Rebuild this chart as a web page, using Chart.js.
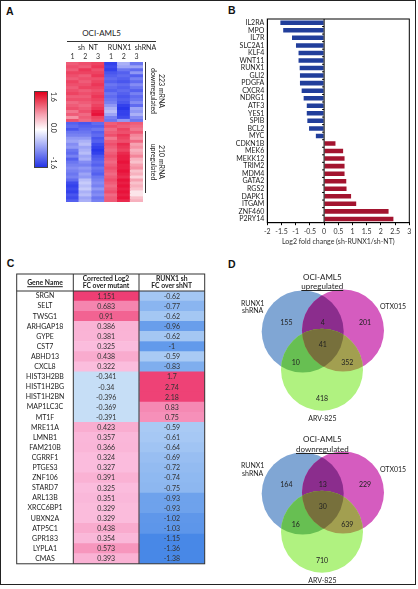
<!DOCTYPE html>
<html><head><meta charset="utf-8">
<script src="https://cdn.jsdelivr.net/npm/chart.js@4.4.1/dist/chart.umd.min.js"></script>
<style>
html,body{margin:0;padding:0;background:#fff;}
body{width:418px;height:589px;position:relative;overflow:hidden;font-family:Lato,"Open Sans",sans-serif;color:#222;}
.abs{position:absolute;}
canvas{position:absolute;z-index:1;}
.lbl{position:absolute;z-index:2;white-space:nowrap;font-size:7px;line-height:8px;transform:translate(-50%,-50%);text-align:center;}
.rot{transform:translate(-50%,-50%) rotate(90deg);}
.panel{position:absolute;font-family:"Liberation Sans",Arial,sans-serif;font-weight:bold;font-size:10.5px;line-height:11px;color:#111;}
.hd{position:absolute;z-index:2;font-weight:bold;font-size:6.8px;line-height:7.6px;text-align:center;white-space:nowrap;transform:translate(-50%,-50%);color:#222;}
</style></head><body>
<div class="abs" style="left:0;top:0;width:414px;height:583px;border:1.5px solid #222;"></div>

<!-- Panel A -->
<div class="panel" style="left:6px;top:6px;">A</div>
<div class="lbl" style="left:101.5px;top:32.7px;font-size:8px;">OCI-AML5</div>
<div class="abs" style="left:66.7px;top:40.5px;width:89.3px;border-top:0.8px solid #333;"></div>
<div class="lbl" style="left:88px;top:46.5px;">sh&nbsp;&nbsp;NT</div>
<div class="lbl" style="left:132px;top:46.5px;">RUNX1&nbsp;&nbsp;shRNA</div>
<div class="abs" style="left:34px;top:90.7px;width:11.5px;height:75px;border:0.6px solid #444;background:linear-gradient(to bottom,#e2001c 0%,#f6a0b0 30%,#ffffff 50%,#a8b0f6 70%,#2535e6 100%);"></div>
<div class="lbl rot" style="left:54.3px;top:96.7px;">1.6</div>
<div class="lbl rot" style="left:54.3px;top:127.5px;">0.0</div>
<div class="lbl rot" style="left:54.3px;top:162.5px;">-1.6</div>
<canvas id="cA" width="77" height="152" style="left:66px;top:50px;width:77px;height:152px;"></canvas>
<div class="abs" style="left:145.4px;top:62px;height:58px;border-left:0.8px solid #333;"></div>
<div class="abs" style="left:145.4px;top:130.7px;height:62.6px;border-left:0.8px solid #333;"></div>
<div class="lbl rot" style="left:162px;top:90.5px;">223 mRNA</div>
<div class="lbl rot" style="left:154.3px;top:90.5px;">downregulated</div>
<div class="lbl rot" style="left:162px;top:162px;">210 mRNA</div>
<div class="lbl rot" style="left:154.3px;top:162px;">upregulated</div>

<!-- Panel B -->
<div class="panel" style="left:228px;top:5px;">B</div>
<canvas id="cB" width="206" height="236" style="left:210px;top:10px;width:206px;height:236px;"></canvas>

<!-- Panel C -->
<div class="panel" style="left:6.7px;top:258px;">C</div>
<canvas id="cC" width="190" height="304" style="left:16px;top:273px;width:190px;height:304px;"></canvas>
<div class="hd" style="left:45px;top:282.5px;text-decoration:underline;">Gene Name</div>
<div class="hd" style="left:106px;top:282.5px;">Corrected Log2<br>FC over mutant</div>
<div class="hd" style="left:171.7px;top:282.5px;">RUNX1 sh<br>FC over shNT</div>

<!-- Panel D -->
<div class="panel" style="left:228px;top:258.7px;">D</div>
<div class="lbl" style="left:322.3px;top:276.7px;font-size:8px;">OCI-AML5</div>
<div class="lbl" style="left:322.3px;top:286.4px;font-size:8px;text-decoration:underline;">upregulated</div>
<canvas id="cD1" width="176" height="128" style="left:240px;top:288px;width:176px;height:128px;"></canvas>
<div class="lbl" style="left:252.7px;top:306.7px;line-height:7.5px;">RUNX1<br>shRNA</div>
<div class="lbl" style="left:393px;top:306px;">OTX015</div>
<div class="lbl" style="left:322.3px;top:418.3px;">ARV-825</div>

<div class="lbl" style="left:322.3px;top:439.3px;font-size:8px;">OCI-AML5</div>
<div class="lbl" style="left:322.3px;top:449px;font-size:8px;text-decoration:underline;">downregulated</div>
<canvas id="cD2" width="176" height="128" style="left:240px;top:450px;width:176px;height:128px;"></canvas>
<div class="lbl" style="left:252.7px;top:469px;line-height:7.5px;">RUNX1<br>shRNA</div>
<div class="lbl" style="left:393px;top:468.5px;">OTX015</div>
<div class="lbl" style="left:322.3px;top:579.8px;">ARV-825</div>

<script>
// ---------------- DATA ----------------
// Panel A heatmap (z-scores), 20 rows downregulated block + 27 rows upregulated block
const heatColumns = ['1','2','3','1','2','3'];
const shNT_1 = [1.0,1.1,1.0,1.2,1.1,1.0,1.2,1.1,1.0,1.1,1.2,1.0,1.1,0.9,1.0,1.1,0.8,1.0,0.6,1.1,
  -1.2,-1.1,-1.3,-1.0,-0.9,-0.7,-0.6,-0.8,-0.7,-1.0,-1.1,-0.9,-1.2,-1.0,-0.9,-0.8,-0.9,-1.0,-0.9,-1.1,-1.4,-1.5,-1.4,-1.5,-1.3,-1.4,-1.2];
const shNT_2 = [1.1,1.0,1.3,1.2,1.0,1.1,1.0,1.1,1.2,1.0,1.1,1.0,1.1,1.0,0.9,1.0,1.1,0.9,1.0,0.9,
  -1.3,-1.2,-1.1,-1.0,-0.9,-0.7,-0.5,-0.4,-0.6,-0.5,-0.4,-0.6,-0.5,-0.8,-0.9,-0.7,-0.8,-0.6,-0.7,-0.4,-0.3,-0.4,-0.3,-0.5,-0.4,-0.6,-0.5];
const shNT_3 = [1.2,1.3,1.1,1.2,1.3,1.1,1.2,1.3,1.2,1.1,1.2,1.3,1.2,1.1,1.2,1.3,1.5,1.6,1.2,1.1,
  -1.1,-1.2,-1.0,-1.2,-1.1,-1.3,-1.2,-1.4,-1.5,-1.6,-1.5,-1.3,-1.2,-1.1,-1.2,-1.0,-1.1,-1.2,-1.0,-0.9,-0.8,-0.9,-0.7,-0.9,-0.8,-1.0,-0.9];
const shRUNX1_1 = [-1.5,-1.4,-1.5,-1.3,-1.2,-1.1,-1.2,-1.0,-1.1,-1.2,-1.0,-1.1,-1.0,-0.9,-0.7,-0.5,-0.4,-0.6,-0.9,-1.0,
  1.0,1.1,0.9,1.0,1.1,0.8,1.0,1.1,1.0,0.9,1.0,1.1,1.0,0.9,1.0,1.1,1.0,0.9,1.0,1.1,1.0,0.9,1.0,1.1,0.9,1.0,1.0];
const shRUNX1_2 = [-0.5,-0.6,-1.0,-1.2,-1.1,-1.2,-1.3,-1.1,-1.2,-1.1,-1.2,-1.3,-1.2,-1.3,-1.5,-1.6,-1.5,-1.5,-1.4,-0.7,
  1.1,1.0,1.2,1.1,1.3,1.2,1.1,1.4,1.3,1.2,1.4,1.5,1.5,1.6,1.5,1.5,1.6,1.5,1.4,1.6,1.5,1.6,1.5,1.6,1.5,1.6,1.4];
const shRUNX1_3 = [-1.0,-0.6,-1.1,-0.7,-1.2,-0.9,-1.1,-0.8,-1.0,-1.2,-0.9,-1.1,-1.0,-0.8,-1.1,-0.6,-0.7,-0.5,-0.8,-1.0,
  1.0,0.9,0.8,1.0,0.7,0.6,0.9,0.5,0.6,0.4,0.5,0.7,0.4,0.3,0.5,0.6,0.3,0.4,0.2,0.5,0.3,0.4,0.3,0.1,0.1,0.3,0.4];

// Panel B
const genesB = ['IL2RA','MPO','IL7R','SLC2A1','KLF4','WNT11','RUNX1','GLI2','PDGFA','CXCR4','NDRG1','ATF3','YES1','SPIB','BCL2','MYC',
  'CDKN1B','MEK6','MEKK12','TRIM2','MDM4','GATA2','RGS2','DAPK1','ITGAM','ZNF460','P2RY14'];
const log2FC = [-1.54,-1.44,-1.13,-0.99,-0.90,-0.90,-0.86,-0.85,-0.85,-0.79,-0.72,-0.61,-0.61,-0.59,-0.53,-0.29,
  0.40,0.67,0.72,0.72,0.72,0.78,0.79,0.95,1.13,2.27,2.44];
const xTicksB = [-2,3,0.5]; // min, max, step

// Panel C
const tableGenes = ['SRGN','SELT','TWSG1','ARHGAP18','GYPE','CST7','ABHD13','CXCL8','HIST3H2BB','HIST1H2BG','HIST1H2BN','MAP1LC3C','MT1F',
  'MRE11A','LMNB1','FAM210B','CGRRF1','PTGES3','ZNF106','STARD7','ARL13B','XRCC6BP1','UBXN2A','ATP5C1','GPR183','LYPLA1','CMAS'];
const fcMutant = ['1.151','0.683','0.91','0.386','0.381','0.325','0.438','0.322','-0.341','-0.34','-0.396','-0.369','-0.391',
  '0.423','0.357','0.366','0.324','0.327','0.391','0.325','0.351','0.329','0.329','0.438','0.354','0.573','0.393'];
const fcShNT = ['-0.62','-0.77','-0.62','-0.96','-0.62','-1','-0.59','-0.83','1.7','2.74','2.18','0.83','0.75',
  '-0.59','-0.61','-0.64','-0.69','-0.72','-0.74','-0.75','-0.93','-0.93','-1.02','-1.03','-1.15','-1.36','-1.38'];

// Panel D (region order: RUNX1 only, RUNX1∩OTX, OTX only, all three, RUNX1∩ARV, OTX∩ARV, ARV only)
const vennUp = [155,4,201,41,10,352,418];
const vennDown = [164,13,229,30,16,639,710];

// ---------------- HELPERS ----------------
Chart.defaults.font.family = 'Lato, "Open Sans", sans-serif';
Chart.defaults.color = '#333';
Chart.defaults.animation = false;
function mix(a,b,t){t=Math.max(0,Math.min(1,t));return 'rgb('+a.map((c,i)=>Math.round(c+(b[i]-c)*t)).join(',')+')';}
function heatColor(v){const t=Math.pow(Math.min(Math.abs(v)/1.6,1),0.8);return v>=0?mix([255,255,255],[232,18,58],t):mix([255,255,255],[40,55,235],t);}
function colMutant(v){v=parseFloat(v);return v>=0?mix([251,192,224],[238,62,116],(v-0.3)/0.85):'rgb(198,222,246)';}
function colShNT(v){v=parseFloat(v);return v<0?mix([176,207,245],[72,136,231],(-v-0.55)/0.6):mix([246,148,188],[238,66,118],(v-0.7)/1.0);}

// ---------------- PANEL A ----------------
const heatCols=[shNT_1,shNT_2,shNT_3,shRUNX1_1,shRUNX1_2,shRUNX1_3];
const nRows=shNT_1.length;
const heatSets=[];
for(let r=0;r<nRows;r++){
  heatSets.push({data:heatColumns.map(()=>1),backgroundColor:heatCols.map(c=>heatColor(c[r])),borderWidth:0,
    barPercentage:1,categoryPercentage:1,stack:'h'});
}
new Chart(document.getElementById('cA'),{type:'bar',data:{labels:heatColumns,datasets:heatSets},
  options:{responsive:false,layout:{padding:0},plugins:{legend:{display:false},tooltip:{enabled:false}},
    scales:{x:{stacked:true,position:'top',grid:{display:false,drawTicks:false},border:{display:false},
        ticks:{font:{size:7},color:'#333',padding:1,maxRotation:0,autoSkip:false},afterFit:s=>{s.height=12;}},
      y:{stacked:true,min:0,max:nRows,reverse:true,display:false}}}});

// ---------------- PANEL B ----------------
const boxPlugin={id:'boxB',afterDatasetsDraw(chart){
  const {ctx,chartArea:a}=chart;const x0=chart.scales.x.getPixelForValue(0);
  ctx.save();ctx.strokeStyle='#000';ctx.lineWidth=1;
  ctx.strokeRect(a.left,a.top,a.right-a.left,a.bottom-a.top);
  ctx.beginPath();ctx.moveTo(x0,a.top);ctx.lineTo(x0,a.bottom);
  const n=chart.data.labels.length;const step=(a.bottom-a.top)/n;
  for(let i=1;i<n;i++){const y=a.top+step*i;ctx.moveTo(x0-2,y);ctx.lineTo(x0,y);}
  ctx.stroke();ctx.restore();}};
new Chart(document.getElementById('cB'),{type:'bar',
  data:{labels:genesB,datasets:[{data:log2FC,backgroundColor:log2FC.map(v=>v<0?'#213e9b':'#a3142f'),borderWidth:0,barPercentage:0.6,categoryPercentage:1}]},
  options:{indexAxis:'y',responsive:false,layout:{padding:{top:9,right:6.7,left:0,bottom:0}},
    plugins:{legend:{display:false},tooltip:{enabled:false}},
    scales:{
      x:{type:'linear',min:xTicksB[0],max:xTicksB[1],ticks:{stepSize:xTicksB[2],font:{size:7},color:'#333',padding:2.5,maxRotation:0,autoSkip:false,callback:v=>String(v)},
        grid:{drawOnChartArea:false,drawTicks:true,tickLength:2.5,color:'#000'},border:{display:true,color:'#000'},
        title:{display:true,text:'Log2 fold change (sh-RUNX1/sh-NT)',font:{size:7,family:'"Liberation Sans Narrow","Arial Narrow",Lato,sans-serif'},color:'#333',padding:0},
        afterFit:s=>{s.height=23.3;}},
      y:{ticks:{font:{size:7},color:'#222',padding:3,autoSkip:false},grid:{display:false,drawTicks:false},border:{display:true,color:'#000'},
        afterFit:s=>{s.width=57.3;}}}},
  plugins:[boxPlugin]});

// ---------------- PANEL C ----------------
const mctx=document.createElement('canvas').getContext('2d');mctx.font='7px Lato';
const widest=Math.max(...tableGenes.map(g=>mctx.measureText(g).width));
const tablePlugin={id:'tableC',afterDatasetsDraw(chart){
  const {ctx,chartArea:a}=chart;const ys=chart.scales.y;const xs=chart.scales.x;
  ctx.save();ctx.font='7px Lato';ctx.textAlign='center';ctx.textBaseline='middle';ctx.fillStyle='#333';
  chart.data.datasets.forEach((ds,di)=>{chart.getDatasetMeta(di).data.forEach((el,i)=>{
    ctx.fillText(ds.labelsText[i],(el.x+el.base)/2,el.y+0.3);});});
  const top=a.top-17;const left=ys.left;
  ctx.strokeStyle='#333';ctx.lineWidth=1;
  ctx.strokeRect(left,top,a.right-left,a.bottom-top);
  ctx.beginPath();ctx.moveTo(left,a.top);ctx.lineTo(a.right,a.top);
  [0,1].forEach(v=>{const x=xs.getPixelForValue(v);ctx.moveTo(x,top);ctx.lineTo(x,a.bottom);});
  ctx.stroke();ctx.restore();}};
new Chart(document.getElementById('cC'),{type:'bar',
  data:{labels:tableGenes,datasets:[
    {data:fcMutant.map(()=>[0,1]),labelsText:fcMutant,backgroundColor:fcMutant.map(colMutant),borderWidth:0,barPercentage:1,categoryPercentage:1,grouped:false},
    {data:fcShNT.map(()=>[1,2]),labelsText:fcShNT,backgroundColor:fcShNT.map(colShNT),borderWidth:0,barPercentage:1,categoryPercentage:1,grouped:false}]},
  options:{indexAxis:'y',responsive:false,layout:{padding:{top:18,right:1.3,left:0.7,bottom:1.5}},
    plugins:{legend:{display:false},tooltip:{enabled:false}},
    scales:{x:{type:'linear',min:0,max:2,display:false},
      y:{ticks:{font:{size:7},color:'#222',crossAlign:'center',padding:28.3-widest/2,autoSkip:false},grid:{display:false,drawTicks:false},border:{display:false},
        afterFit:s=>{s.width=56.6;}}}},
  plugins:[tablePlugin]});

// ---------------- PANEL D ----------------
const vennPlugin={id:'venn',afterDatasetsDraw(chart,args,opts){
  const ctx=chart.ctx;const pts=chart.getDatasetMeta(0).data;const r=chart.data.datasets[0].pointRadius;
  const [B,M,G]=pts;
  const circ=p=>{ctx.beginPath();ctx.arc(p.x,p.y,r,0,Math.PI*2);};
  const fillIn=(clips,p,color)=>{ctx.save();clips.forEach(c=>{circ(c);ctx.clip();});circ(p);ctx.fillStyle=color;ctx.fill();ctx.restore();};
  fillIn([B],M,'#8b2d8d');fillIn([B],G,'#67bf52');fillIn([M],G,'#a29f50');fillIn([B,M],G,'#77703c');
  const c=opts.counts;const mx=(B.x+M.x)/2;
  const pos=[[B.x-16.3,B.y-8.3],[mx,B.y-8.3],[M.x+22,M.y-7.5],[mx,G.y-24.8],[B.x-7,B.y+31.3],[M.x+4.3,M.y+32.2],[G.x,G.y+28.6]];
  ctx.save();ctx.font='7px Lato';ctx.fillStyle='#222';ctx.textAlign='center';ctx.textBaseline='middle';
  pos.forEach((p,i)=>ctx.fillText(String(c[i]),p[0],p[1]));ctx.restore();}};
const vennLayout=[{x:62.7,y:43.5},{x:103,y:42.5},{x:82,y:81.7}];
function makeVenn(id,counts){
  new Chart(document.getElementById(id),{type:'scatter',
    data:{datasets:[{data:vennLayout,backgroundColor:['#80a6d4','#d55cbf','#b0f280'],borderWidth:0,pointRadius:41,pointHoverRadius:41,clip:false}]},
    options:{responsive:false,layout:{padding:0,autoPadding:false},plugins:{legend:{display:false},tooltip:{enabled:false},venn:{counts:counts}},
      scales:{x:{type:'linear',min:0,max:176,display:false},y:{type:'linear',min:0,max:128,reverse:true,display:false}}},
    plugins:[vennPlugin]});
}
makeVenn('cD1',vennUp);
makeVenn('cD2',vennDown);
</script>
</body></html>
